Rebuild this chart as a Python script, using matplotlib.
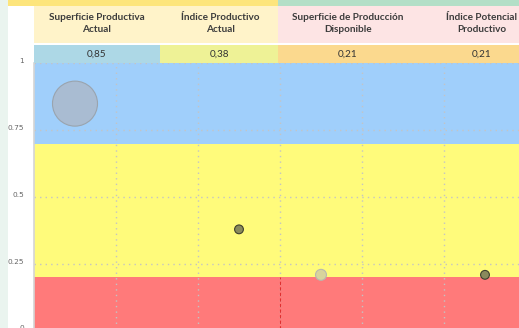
import matplotlib
matplotlib.use("Agg")
import matplotlib.pyplot as plt
from matplotlib.patches import Rectangle
from matplotlib.transforms import ScaledTranslation

# ---- data ----
headers = ["Superficie Productiva\nActual", "Índice Productivo\nActual",
           "Superficie de Producción\nDisponible", "Índice Potencial\nProductivo"]
header_values = ["0,85", "0,38", "0,21", "0,21"]
point_x = [0.5, 2.5, 3.5, 5.5]
point_y = [0.85, 0.38, 0.21, 0.21]
point_sizes = [1050, 40, 62, 40]
point_colors = ["#a9bcd2", "#8a8a5c", "#d8d49c", "#8a8a5c"]
point_edges = ["#9aa4ae", "#3e3e2e", "#b8b8b0", "#3e3e2e"]
bands = [(0.0, 0.2, "#ff7a7a"), (0.2, 0.7, "#fffb7b"), (0.7, 1.0, "#a0cffb")]
yticks = [0, 0.25, 0.5, 0.75, 1]
ytick_labels = ["0", "0.25", "0.5", "0.75", "1"]

W, H = 519, 328
fig = plt.figure(figsize=(W / 100, H / 100), dpi=100)

def fx(px):
    return px / W

def fy(py):
    return 1 - py / H

# background decorations
fig.patches.append(Rectangle((0, 0), fx(8), 1, transform=fig.transFigure,
                             facecolor="#eaf4ef", edgecolor="none", zorder=0))
fig.patches.append(Rectangle((fx(8), fy(6)), fx(278 - 8), 6 / H, transform=fig.transFigure,
                             facecolor="#fde57c", edgecolor="none", zorder=0))
fig.patches.append(Rectangle((fx(278), fy(6)), fx(W - 278), 6 / H, transform=fig.transFigure,
                             facecolor="#b3dfc7", edgecolor="none", zorder=0))

# axes
left, right, top, bottom = 34, 526, 63.5, 331
ax = fig.add_axes([fx(left), fy(bottom), fx(right - left), (bottom - top) / H])
ax.set_xlim(0, 6)
ax.set_ylim(0, 1)
for y0, y1, c in bands:
    ax.axhspan(y0, y1, facecolor=c, edgecolor="none", zorder=0)
ax.set_xticks([1, 2, 3, 4, 5])
ax.set_yticks(yticks)
ax.set_yticklabels(ytick_labels)
ax.grid(True, linestyle=(0, (1, 3)), color="#c4c4c4", linewidth=1.0, zorder=1)
ax.tick_params(axis="x", length=0, labelbottom=False)
ax.tick_params(axis="y", length=0, pad=7.2, labelsize=5.3, labelcolor="#666666")
for lab in ax.get_yticklabels():
    lab.set_transform(lab.get_transform() + ScaledTranslation(0, 0.03, fig.dpi_scale_trans))
for s in ["top", "right", "bottom"]:
    ax.spines[s].set_visible(False)
ax.spines["left"].set_color("#d4d4d4")
ax.spines["left"].set_linewidth(1.2)
ax.vlines(3, 0, 0.2, colors="#e03030", linestyles=(0, (3, 2)), linewidth=0.8, zorder=2)

ax.scatter(point_x, point_y, s=point_sizes, c=point_colors, edgecolors=point_edges,
           linewidths=0.8, zorder=3)

# header cells
hdr_cells = [(34, 278, "#fff3c9"), (278, W, "#fde4e4")]
for x0, x1, c in hdr_cells:
    fig.patches.append(Rectangle((fx(x0), fy(43)), fx(x1 - x0), 37 / H, transform=fig.transFigure,
                                 facecolor=c, edgecolor="none", zorder=5))
val_cells = [(34, 160, "#add8e6"), (160, 278, "#eef296"), (278, W, "#fbd98e")]
for x0, x1, c in val_cells:
    fig.patches.append(Rectangle((fx(x0), fy(63)), fx(x1 - x0), 18 / H, transform=fig.transFigure,
                                 facecolor=c, edgecolor="none", zorder=5))

hdr_cx = [97, 220, 348, 482]
val_cx = [97, 219, 348, 482]
for t, cx in zip(headers, hdr_cx):
    fig.text(fx(cx), fy(23.5), t, ha="center", va="center", fontsize=7.2,
             family="Lato", weight="bold", color="#3c3c3c", linespacing=1.35, zorder=6)
for t, cx in zip(header_values, val_cx):
    fig.text(fx(cx), fy(54), t, ha="center", va="center", fontsize=7.2,
             family="Lato", color="#333333", zorder=6)

fig.savefig("out.png", dpi=100)
